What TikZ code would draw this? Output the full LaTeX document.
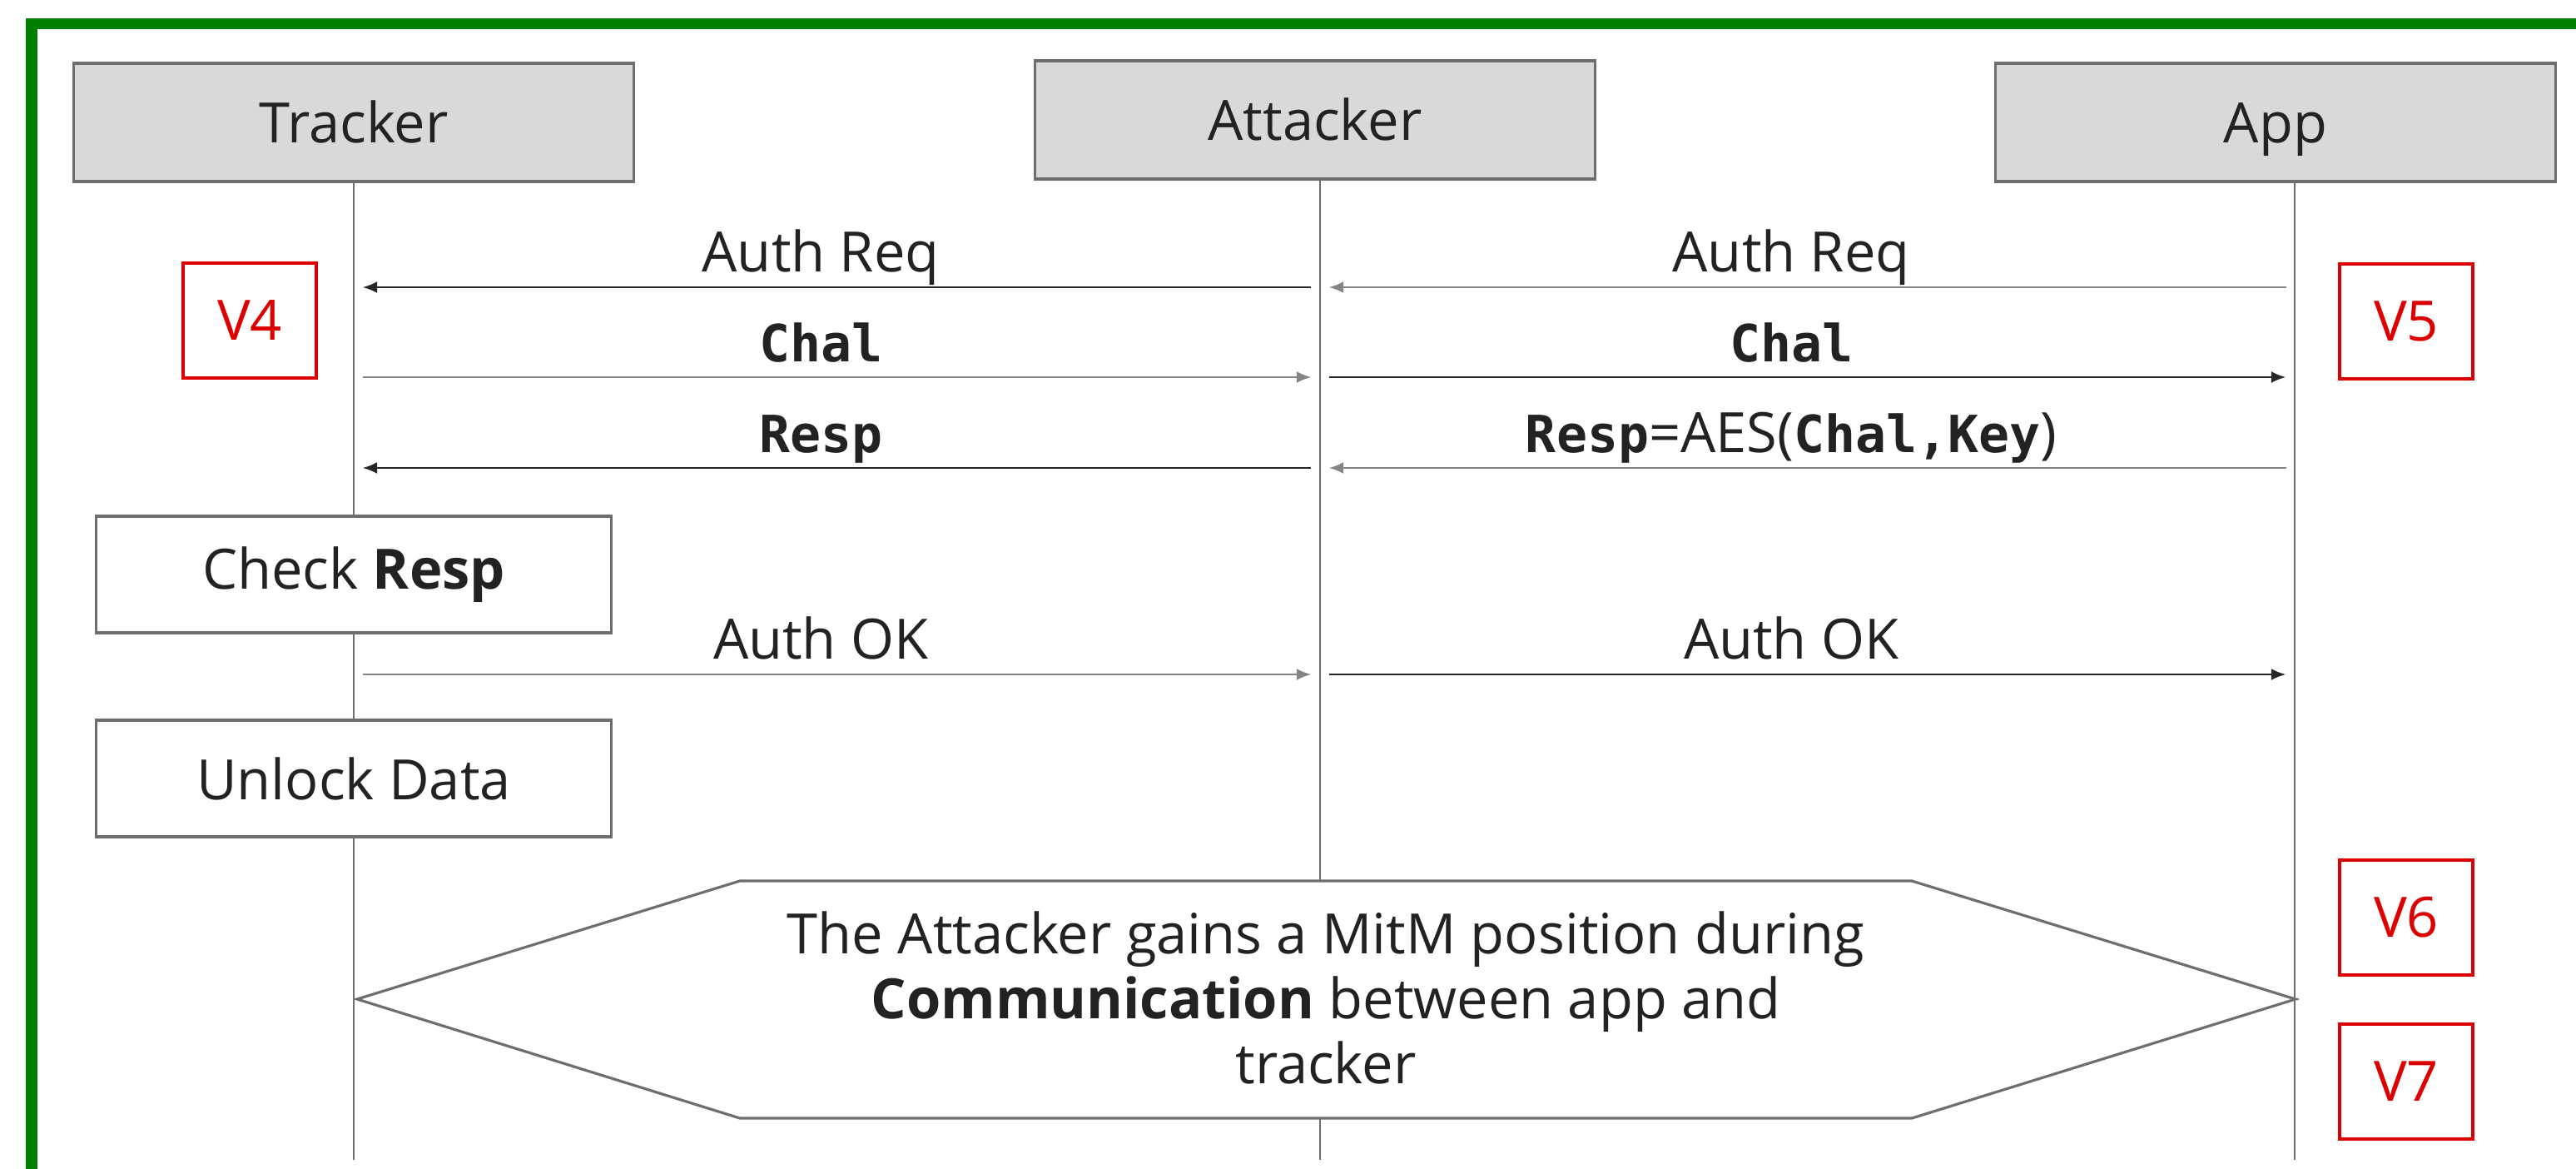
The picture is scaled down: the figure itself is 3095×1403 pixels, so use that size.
\documentclass[tikz,border=0pt]{standalone}
\usepackage{fontspec}
\setmainfont{Open Sans}
\newfontfamily\codefont{DejaVu Sans Mono}
\usetikzlibrary{arrows.meta}

\definecolor{framegreen}{HTML}{008000}
\definecolor{headgray}{HTML}{D9D9D9}
\definecolor{linegray}{HTML}{6E6E6E}
\definecolor{vulnred}{HTML}{DD0000}
\definecolor{txt}{HTML}{222222}

\newcommand{\codeword}[1]{{\codefont\bfseries\fontsize{17.5}{21}\selectfont #1}}

\tikzset{
	actor/.style={draw=linegray, line width=0.9pt, fill=headgray, text=txt,
		minimum width=6.73cm, minimum height=1.42cm, text height=14pt, text depth=0pt,
		font=\fontsize{19}{23}\selectfont},
	stepbox/.style={draw=linegray, line width=0.9pt, fill=white, text=txt,
		minimum width=6.18cm, minimum height=1.40cm, font=\fontsize{19}{23}\selectfont},
	vbox/.style={draw=vulnred, line width=1.3pt, text=vulnred,
		minimum width=1.6cm, minimum height=1.38cm, font=\fontsize{19}{23}\selectfont},
	life/.style={draw=linegray, line width=0.6pt},
	msg/.style={-{Latex[length=5pt,width=4pt]}, line width=0.8pt, black!85,
		shorten >=3pt, shorten <=3pt},
	msgg/.style={msg, linegray!85},
	lbl/.style={anchor=base, yshift=5.4pt, xshift=-5.5pt, text=txt,
		font=\fontsize{19}{23}\selectfont}
}

\begin{document}
\begin{tikzpicture}[x=0.01cm, y=-0.01cm]
	\clip (0,0) rectangle (3095,1403);
	% frame
	\draw [framegreen, line width=3.7pt] (38,1420) -- (38,28.5) -- (3120,28.5);

	% lifelines
	\coordinate (tTop) at (425,219);
	\coordinate (tEnd) at (425,1393);
	\coordinate (aTop) at (1586,216);
	\coordinate (aEnd) at (1586,1393);
	\coordinate (pTop) at (2757,219);
	\coordinate (pEnd) at (2757,1393);
	\draw [life] (tTop) -- (tEnd);
	\draw [life] (aTop) -- (aEnd);
	\draw [life] (pTop) -- (pEnd);

	\node [actor] (tracker) at (425,147) {Tracker};
	\node [actor] (attacker) at (1580,144) {Attacker};
	\node [actor] (app) at (2734,147) {App};

	\foreach \r/\y in {1/345,2/453,3/562,4/810} {
		\coordinate (T\r) at (425,\y);
		\coordinate (A\r) at (1586,\y);
		\coordinate (P\r) at (2757,\y);
	}

	% messages
	\draw [msgg] (P1) -- (A1) node [lbl, midway] {Auth Req};
	\draw [msg] (A1) -- (T1) node [lbl, midway] {Auth Req};
	\draw [msgg] (T2) -- (A2) node [lbl, midway] {\codeword{Chal}};
	\draw [msg] (A2) -- (P2) node [lbl, midway] {\codeword{Chal}};
	\draw [msgg] (P3) -- (A3) node [lbl, midway] {\codeword{Resp}=AES(\codeword{Chal,Key})};
	\draw [msg] (A3) -- (T3) node [lbl, midway] {\codeword{Resp}};
	\draw [msgg] (T4) -- (A4) node [lbl, midway] {Auth OK};
	\draw [msg] (A4) -- (P4) node [lbl, midway] {Auth OK};

	\node [stepbox] (check) at (425,690) {Check \textbf{Resp}};
	\node [stepbox] (unlock) at (425,935) {Unlock Data};

	% MitM hexagon
	\draw [draw=linegray, line width=0.9pt, fill=white]
		(429,1200) -- (889,1058) -- (2297,1058) -- (2758,1200) -- (2297,1343) -- (889,1343) -- cycle;
	\node [align=center, text=txt, font=\fontsize{19}{22.2}\selectfont] (mitm) at (1593,1198)
		{The Attacker gains a MitM position during\\ \textbf{Communication} between app and\\ tracker};

	\node [vbox] (v4) at (300,385) {V4};
	\node [vbox] (v5) at (2891,386) {V5};
	\node [vbox] (v6) at (2891,1102) {V6};
	\node [vbox] (v7) at (2891,1299) {V7};
\end{tikzpicture}
\end{document}
